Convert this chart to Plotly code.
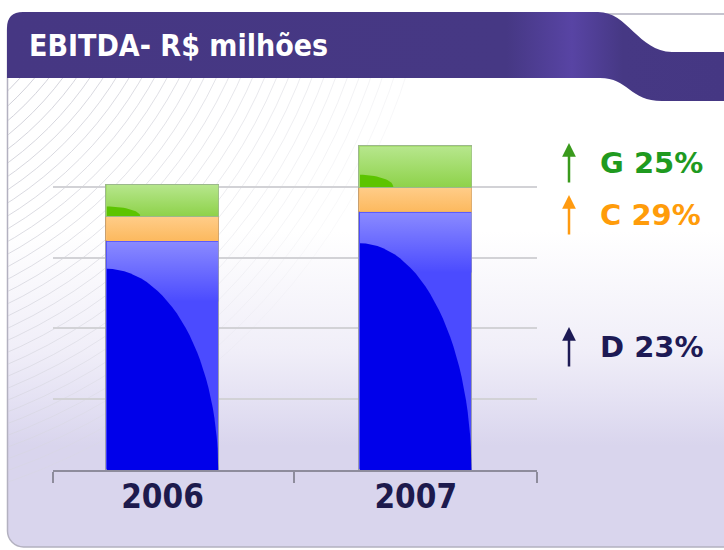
import base64
import math
import plotly.graph_objects as go

# ---------------- data ----------------
years = ["2006", "2007"]
D = [323, 364]          # bottom segment (blue)
C = [35, 35]            # middle segment (orange)
G = [45, 58]            # top segment (green)
growth_labels = ["G", "C", "D"]
growth_values = [25, 29, 23]

W, H = 724, 550
ML, MR, MT, MB = 53, 187, 116, 80
PW, PH = W - ML - MR, H - MT - MB
BAR_W = 0.446
XR = [-0.4325, 1.479]
YR = [0, 500]


def px(x):
    return (x - ML) / PW


def py(y):
    return (H - MB - y) / PH


xpos = list(range(len(years)))

fig = go.Figure()
fig.add_bar(x=xpos, y=D, width=BAR_W, marker=dict(color="#4b4bff", line=dict(color="#9c9cb0", width=1)),
            hoverinfo="skip", showlegend=False)
fig.add_bar(x=xpos, y=C, width=BAR_W, marker=dict(color="#fdc274", line=dict(color="#c8a070", width=1)),
            hoverinfo="skip", showlegend=False)
fig.add_bar(x=xpos, y=G, width=BAR_W, marker=dict(color="#a2dc66", line=dict(color="#9cb88c", width=1)),
            hoverinfo="skip", showlegend=False)
fig.update_layout(barmode="stack")

# gradient / highlight overlays derived from the data
for i, xi in enumerate(xpos):
    l, r = xi - BAR_W / 2 + 0.003, xi + BAR_W / 2 - 0.003
    d, c, g = D[i], C[i], G[i]
    fig.add_scatter(x=[l, r, r, l, l], y=[d - 85, d - 85, d - 0.6, d - 0.6, d - 85], mode="lines",
                    line=dict(width=0), fill="toself",
                    fillgradient=dict(type="vertical", colorscale=[[0, "#4b4bff"], [1, "#8a8aff"]]),
                    hoverinfo="skip", showlegend=False)
    fig.add_scatter(x=[l, r, r, l, l], y=[d + 0.6, d + 0.6, d + c - 0.6, d + c - 0.6, d + 0.6], mode="lines",
                    line=dict(width=0), fill="toself",
                    fillgradient=dict(type="vertical", colorscale=[[0, "#fcb95e"], [1, "#ffcc88"]]),
                    hoverinfo="skip", showlegend=False)
    fig.add_scatter(x=[l, r, r, l, l], y=[d + c + 0.6, d + c + 0.6, d + c + g - 0.6, d + c + g - 0.6, d + c + 0.6],
                    mode="lines", line=dict(width=0), fill="toself",
                    fillgradient=dict(type="vertical", colorscale=[[0, "#8ed24a"], [1, "#b6e68c"]]),
                    hoverinfo="skip", showlegend=False)
    rx, ry = (r - l), 0.88 * d
    xs = [l] + [l + rx * math.sin(math.radians(t)) for t in range(0, 91, 3)] + [l]
    ys = [0] + [ry * math.cos(math.radians(t)) for t in range(0, 91, 3)] + [0]
    fig.add_scatter(x=xs, y=ys, mode="lines", line=dict(width=0), fill="toself", fillcolor="#0000ea",
                    hoverinfo="skip", showlegend=False)
    rx2, ry2 = 0.3 * (r - l), 0.3 * g
    base = d + c + 0.6
    xs = [l] + [l + rx2 * math.sin(math.radians(t)) for t in range(0, 91, 5)] + [l]
    ys = [base] + [base + ry2 * math.cos(math.radians(t)) for t in range(0, 91, 5)] + [base]
    fig.add_scatter(x=xs, y=ys, mode="lines", line=dict(width=0), fill="toself", fillcolor="#5cc400",
                    hoverinfo="skip", showlegend=False)

# ---------------- background decoration (SVG image) ----------------
arcs = "".join(
    f"<circle cx='-200' cy='-120' r='{r}' fill='none' stroke='url(#fade)' stroke-width='1'/>"
    for r in range(230, 640, 11)
)
svg = f"""<svg xmlns='http://www.w3.org/2000/svg' width='{W}' height='{H}' viewBox='0 0 {W} {H}'>
<defs>
<linearGradient id='bg' x1='0' y1='0' x2='0' y2='{H}' gradientUnits='userSpaceOnUse'>
<stop offset='0' stop-color='#ffffff'/>
<stop offset='0.42' stop-color='#ffffff'/>
<stop offset='0.64' stop-color='#f0eef8'/>
<stop offset='0.73' stop-color='#e4e1f3'/>
<stop offset='0.81' stop-color='#d9d5ed'/>
<stop offset='1' stop-color='#d9d5ed'/>
</linearGradient>
<linearGradient id='fade' x1='0' y1='80' x2='330' y2='330' gradientUnits='userSpaceOnUse'>
<stop offset='0' stop-color='#c8c8d2' stop-opacity='0.9'/>
<stop offset='0.55' stop-color='#d4d4dc' stop-opacity='0.5'/>
<stop offset='1' stop-color='#e0e0e6' stop-opacity='0'/>
</linearGradient>
<linearGradient id='ban' x1='0' y1='0' x2='{W}' y2='0' gradientUnits='userSpaceOnUse'>
<stop offset='0' stop-color='#463783'/>
<stop offset='0.70' stop-color='#463884'/>
<stop offset='0.79' stop-color='#5844a4'/>
<stop offset='0.86' stop-color='#463884'/>
<stop offset='1' stop-color='#453783'/>
</linearGradient>
<clipPath id='cp'><rect x='8' y='78' width='720' height='468'/></clipPath>
</defs>
<rect x='7.5' y='14' width='760' height='533' rx='16' fill='url(#bg)' stroke='#b3b1c0' stroke-width='1.5'/>
<g clip-path='url(#cp)'>{arcs}</g>
<path d='M7,78 L7,28 Q7,12 23,12 L598,12 C628,12 638,51 672,52 L724,52 L724,101 L662,101 C630,101 628,78 600,78 Z' fill='url(#ban)'/>
</svg>"""
uri = "data:image/svg+xml;base64," + base64.b64encode(svg.encode()).decode()
fig.add_layout_image(source=uri, xref="paper", yref="paper", x=px(0), y=py(0), sizex=W / PW, sizey=H / PH,
                     xanchor="left", yanchor="top", sizing="stretch", layer="below")

# ---------------- text ----------------
fig.add_annotation(text="<b>EBITDA- R$ milhões</b>", xref="paper", yref="paper", x=px(27), y=py(46),
                   xanchor="left", yanchor="middle", showarrow=False,
                   font=dict(family="DejaVu Sans Condensed", size=30, color="#ffffff"))

colors = {"G": "#1f9a1f", "C": "#ff9c0a", "D": "#1d1a55"}
arrow_colors = {"G": "#3a9a1c", "C": "#ff9a10", "D": "#1d1a55"}
text_y = {"G": 163, "C": 215, "D": 347}
arrow_top = {"G": 143, "C": 195, "D": 327}
for lab, val in zip(growth_labels, growth_values):
    fig.add_annotation(text=f"<b>{lab} {val}%</b>", xref="paper", yref="paper", x=px(598), y=py(text_y[lab]),
                       xanchor="left", yanchor="middle", showarrow=False,
                       font=dict(family="DejaVu Sans", size=29, color=colors[lab]))
    fig.add_annotation(text="", xref="paper", yref="paper", x=px(569), y=py(arrow_top[lab]),
                       ax=0, ay=41, showarrow=True, arrowhead=2, arrowsize=1.1, arrowwidth=2.5,
                       arrowcolor=arrow_colors[lab], standoff=0)

# ---------------- axes ----------------
fig.update_xaxes(range=XR, tickmode="array", tickvals=xpos, ticktext=[f"<b>{y}</b>" for y in years],
                 ticks="", showgrid=False, zeroline=False, showline=True, linecolor="#8e8c9c", linewidth=2,
                 tickfont=dict(family="DejaVu Sans Condensed", size=33, color="#1d1a4d"),
                 ticklabelstandoff=-4,
                 minor=dict(tickmode="array", tickvals=[XR[0], (XR[0] + XR[1]) / 2 - 0.004, XR[1]],
                            ticks="outside", ticklen=11, tickwidth=2, tickcolor="#8e8c9c", showgrid=False),
                 fixedrange=True)
fig.update_yaxes(range=YR, dtick=100, showticklabels=False, showgrid=True, gridcolor="#d2d2d6", gridwidth=1.5,
                 zeroline=False, showline=False, ticks="", fixedrange=True)

fig.update_layout(width=W, height=H, margin=dict(l=ML, r=MR, t=MT, b=MB, autoexpand=False),
                  paper_bgcolor="#ffffff", plot_bgcolor="rgba(0,0,0,0)", showlegend=False, bargap=0)

fig.write_html("out.html", config={"displayModeBar": False},
               post_script="document.body.style.margin='0';document.body.style.overflow='hidden';")
